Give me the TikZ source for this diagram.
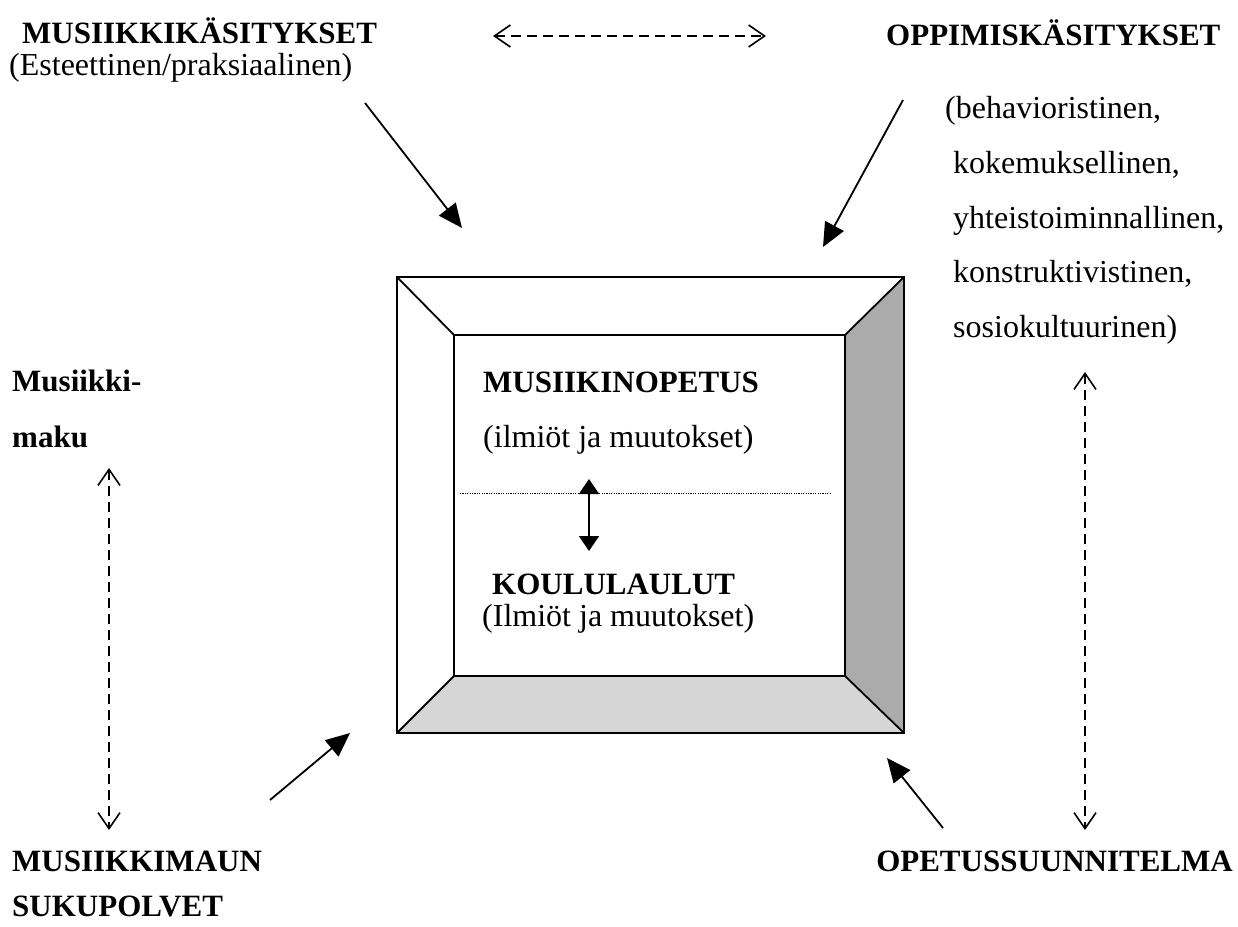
\documentclass[tikz,border=0pt]{standalone}
\usepackage{fontspec}
\setmainfont{Liberation Serif}
\usetikzlibrary{arrows.meta}
\definecolor{darkside}{HTML}{ABABAB}
\definecolor{lightside}{HTML}{D6D6D6}
\begin{document}
\begin{tikzpicture}[x=1pt,y=-1pt,
  txt/.style={anchor=base west, inner sep=0pt, font=\fontsize{32}{38}\selectfont},
  btxt/.style={txt, font=\fontsize{31}{37}\selectfont\bfseries},
  frame/.style={line width=1.8pt, line join=miter},
  solidarrow/.style={line width=1.8pt, -{Triangle[length=24pt,width=21pt]}},
  dasharrow/.style={line width=1.5pt, dash pattern=on 10pt off 6pt, {Straight Barb[length=16pt,width=22pt,line width=1.6pt]}-{Straight Barb[length=16pt,width=22pt,line width=1.6pt]}},
  midarrow/.style={line width=1.6pt, {Triangle[length=15pt,width=20pt]}-{Triangle[length=15pt,width=20pt]}}
]
\useasboundingbox (0,0) rectangle (1238,926);

% box corners
\coordinate (o1) at (397,277);
\coordinate (o2) at (904,277);
\coordinate (o3) at (904,733);
\coordinate (o4) at (397,733);
\coordinate (i1) at (454,335);
\coordinate (i2) at (845,335);
\coordinate (i3) at (845,676);
\coordinate (i4) at (454,676);

\fill[darkside] (o2) -- (i2) -- (i3) -- (o3) -- cycle;
\fill[lightside] (i4) -- (i3) -- (o3) -- (o4) -- cycle;
\draw[frame] (o1) -- (o2) -- (o3) -- (o4) -- cycle;
\draw[frame] (i1) -- (i2) -- (i3) -- (i4) -- cycle;
\draw[frame] (o1) -- (i1);
\draw[frame] (o2) -- (i2);
\draw[frame] (o3) -- (i3);
\draw[frame] (o4) -- (i4);

% texts
\node[btxt] (mk) at (22,43) {MUSIIKKIKÄSITYKSET};
\node[txt] (est) at (9,75) {(Esteettinen/praksiaalinen)};
\node[btxt] (ok) at (886,45) {OPPIMISKÄSITYKSET};
\node[txt] (l1) at (945,118) {(behavioristinen,};
\node[txt] (l2) at (953,173) {kokemuksellinen,};
\node[txt] (l3) at (953,228) {yhteistoiminnallinen,};
\node[txt] (l4) at (953,282) {konstruktivistinen,};
\node[txt] (l5) at (953,337) {sosiokultuurinen)};
\node[btxt] (mm1) at (12,391) {Musiikki-};
\node[btxt] (mm2) at (12,447) {maku};
\node[btxt] (mo) at (483,392) {MUSIIKINOPETUS};
\node[txt] (mo2) at (483,447) {(ilmiöt ja muutokset)};
\node[btxt] (kl) at (492,594) {KOULULAULUT};
\node[txt] (kl2) at (482,626) {(Ilmiöt ja muutokset)};
\node[btxt] (ms1) at (12,871) {MUSIIKKIMAUN};
\node[btxt] (ms2) at (12,916) {SUKUPOLVET};
\node[btxt, anchor=base east] (ops) at (1233,871) {OPETUSSUUNNITELMA};

% connector endpoints
\coordinate (tla) at (365,103);
\coordinate (tlb) at (462,228);
\coordinate (tra) at (903,100);
\coordinate (trb) at (823,247);
\coordinate (bla) at (270,800);
\coordinate (blb) at (350,733);
\coordinate (bra) at (943,828);
\coordinate (brb) at (887,758);
\coordinate (ha) at (493,36);
\coordinate (hb) at (766,36);
\coordinate (lva) at (109,468);
\coordinate (lvb) at (109,830);
\coordinate (rva) at (1085,372);
\coordinate (rvb) at (1085,830);
\coordinate (da) at (460,493);
\coordinate (db) at (830,493);
\coordinate (ma) at (589,479);
\coordinate (mb) at (589,551);

\draw[solidarrow] (tla) -- (tlb);
\draw[solidarrow] (tra) -- (trb);
\draw[solidarrow] (bla) -- (blb);
\draw[solidarrow] (bra) -- (brb);
\draw[dasharrow] (ha) -- (hb);
\draw[dasharrow] (lva) -- (lvb);
\draw[dasharrow] (rva) -- (rvb);
\draw[line width=1pt, dash pattern=on 1.2pt off 1.2pt] (da) -- (db);
\draw[midarrow] (ma) -- (mb);
\end{tikzpicture}
\end{document}
